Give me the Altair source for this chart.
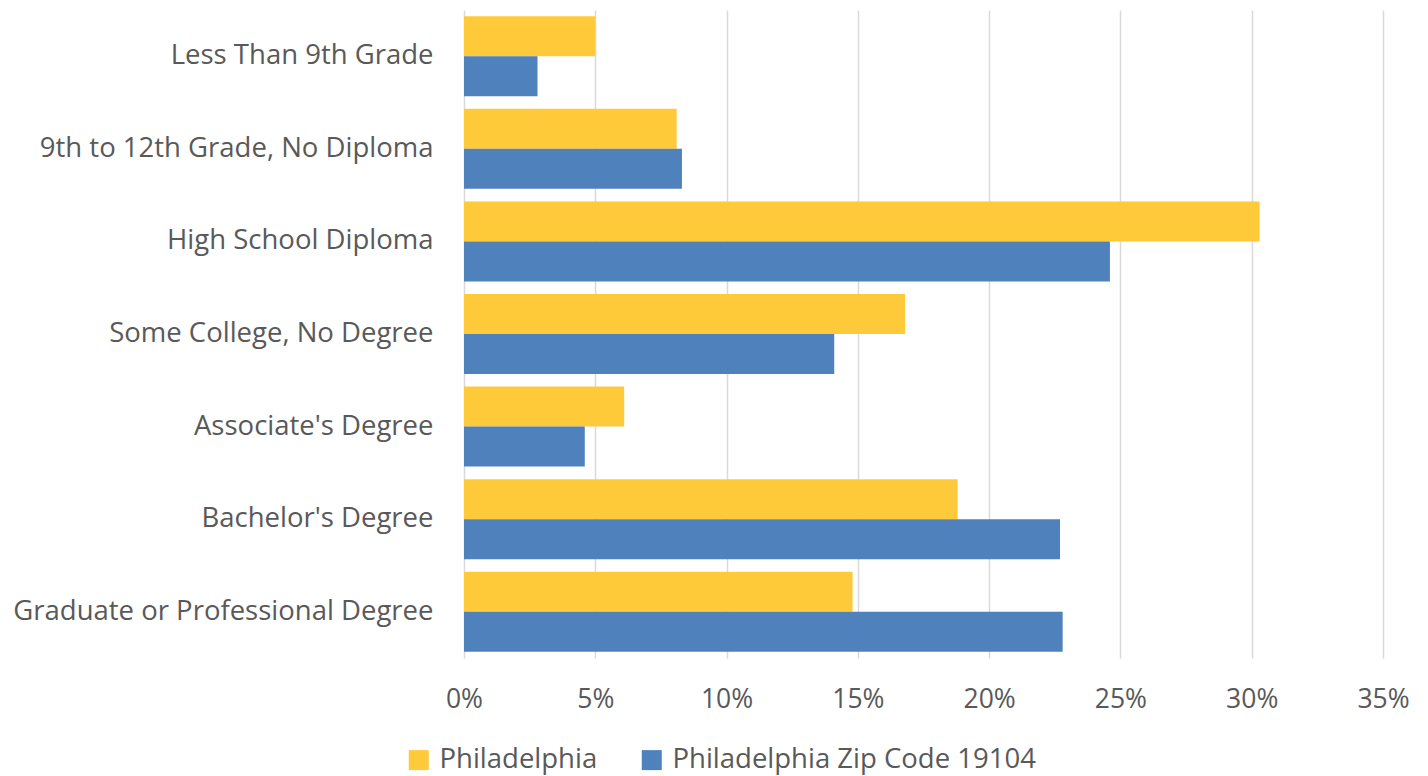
import altair as alt
import pandas as pd

categories = [
    "Less Than 9th Grade",
    "9th to 12th Grade, No Diploma",
    "High School Diploma",
    "Some College, No Degree",
    "Associate's Degree",
    "Bachelor's Degree",
    "Graduate or Professional Degree",
]
series = ["Philadelphia", "Philadelphia Zip Code 19104"]
philadelphia = [0.050, 0.081, 0.303, 0.168, 0.061, 0.188, 0.148]
zip_19104 = [0.028, 0.083, 0.246, 0.141, 0.046, 0.227, 0.228]
colors = ["#FFCA3A", "#4F81BD"]

rows = []
for c, a, b in zip(categories, philadelphia, zip_19104):
    rows.append({"category": c, "series": series[0], "value": a})
    rows.append({"category": c, "series": series[1], "value": b})
df = pd.DataFrame(rows)

font = "Open Sans"
grey = "#595959"
fs = 26.5
fs_cat = 27.5

chart = alt.Chart(df).mark_bar().encode(
    y=alt.Y("category:N", sort=categories, title=None,
            scale=alt.Scale(paddingInner=0.136, paddingOuter=0.068),
            axis=alt.Axis(ticks=False, domain=False, labelPadding=31,
                          labelFontSize=fs_cat, labelColor=grey, labelFont=font,
                          labelLimit=600)),
    yOffset=alt.YOffset("series:N", sort=series, scale=alt.Scale(paddingInner=0, paddingOuter=0)),
    x=alt.X("value:Q", title=None,
            scale=alt.Scale(domain=[0, 0.35], nice=False),
            axis=alt.Axis(format=".0%", values=[0, 0.05, 0.1, 0.15, 0.2, 0.25, 0.3, 0.35],
                          ticks=False, domain=False, labelPadding=28, labelFlush=False,
                          labelFontSize=fs, labelColor=grey, labelFont=font,
                          grid=True, gridColor="#D9D9D9", gridWidth=1.5)),
    color=alt.Color("series:N", sort=series, scale=alt.Scale(domain=series, range=colors),
                    legend=alt.Legend(title=None, orient="none", direction="horizontal",
                                      legendX=-59, legendY=736,
                                      symbolType="square", symbolSize=400,
                                      symbolStrokeWidth=0, symbolOpacity=1,
                                      labelFontSize=fs_cat, labelColor=grey, labelFont=font,
                                      labelOffset=7, columnPadding=40, labelLimit=600)),
).properties(
    width=919, height=648,
    autosize=alt.AutoSizeParams(type="none"),
    padding={"left": 456, "top": 2, "right": 37, "bottom": 118},
).configure_view(stroke=None)

chart.save("out.html", embed_options={"renderer": "svg", "actions": False})
